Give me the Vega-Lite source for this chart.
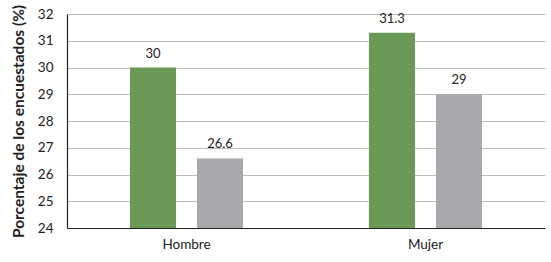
{
  "$schema": "https://vega.github.io/schema/vega-lite/v6.json",
  "width": 478,
  "height": 214,
  "autosize": {"type": "none"},
  "padding": {"left": 67, "top": 14, "right": 6, "bottom": 34},
  "config": {
    "view": {"stroke": null},
    "font": "Lato",
    "axis": {"labelFont": "Lato", "titleFont": "Lato"}
  },
  "data": {
    "values": [
      {"sexo": "Hombre", "serie": "Serie 1", "valor": 30},
      {"sexo": "Hombre", "serie": "Serie 2", "valor": 26.6},
      {"sexo": "Mujer", "serie": "Serie 1", "valor": 31.3},
      {"sexo": "Mujer", "serie": "Serie 2", "valor": 29}
    ]
  },
  "encoding": {
    "x": {
      "field": "sexo",
      "type": "nominal",
      "scale": {"paddingInner": 0, "paddingOuter": 0},
      "axis": {
        "title": null,
        "labelAngle": 0,
        "labelFontSize": 13.5,
        "labelColor": "#222222",
        "labelPadding": 9,
        "ticks": false,
        "domainColor": "#222222",
        "domainWidth": 1.2
      }
    },
    "xOffset": {
      "field": "serie",
      "type": "nominal",
      "scale": {"paddingInner": 0.313, "paddingOuter": 0.94}
    },
    "y": {
      "field": "valor",
      "type": "quantitative",
      "scale": {"domain": [24, 32], "zero": false, "nice": false},
      "axis": {
        "title": "Porcentaje de los encuestados (%)",
        "titleFontSize": 15.5,
        "titleFontWeight": "bold",
        "titleColor": "#222222",
        "titlePadding": 11,
        "labelFontSize": 13.5,
        "labelColor": "#222222",
        "labelPadding": 14,
        "ticks": false,
        "tickCount": 8,
        "domainColor": "#222222",
        "domainWidth": 1.2,
        "gridColor": "#bdbdbd",
        "gridWidth": 1.2
      }
    }
  },
  "layer": [
    {
      "mark": {"type": "bar"},
      "encoding": {
        "y2": {"datum": 24},
        "color": {
          "field": "serie",
          "type": "nominal",
          "scale": {"domain": ["Serie 1", "Serie 2"], "range": ["#6a9955", "#a7a8ab"]},
          "legend": null
        }
      }
    },
    {
      "mark": {"type": "text", "baseline": "bottom", "dy": -7, "fontSize": 13, "color": "#222222"},
      "encoding": {
        "text": {"field": "valor", "type": "quantitative"}
      }
    }
  ]
}
